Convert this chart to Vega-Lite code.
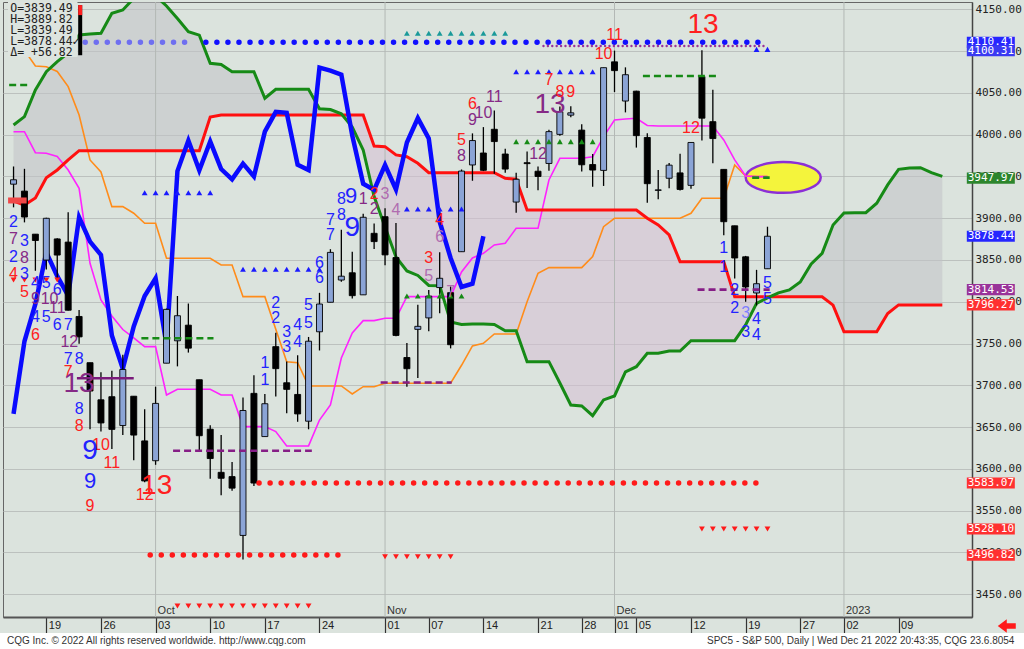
{
"$schema": "https://vega.github.io/schema/vega-lite/v6.json",
"width": 969, "height": 615,
"autosize": {"type": "none"},
"padding": {"left": 3, "top": 2, "right": 52, "bottom": 32},
"background": "#dbe3dd",
"config": {"view": {"stroke": "#666", "strokeWidth": 1}},
"resolve": {"scale": {"color": "independent", "size": "independent", "shape": "independent"}},
"datasets": {
"candles": [
{"i":0,"o":3940.7,"h":3961.9,"l":3913.0,"c":3946.0},{"i":1,"o":3932.4,"h":3959.1,"l":3895.0,"c":3901.4},{"i":2,"o":3880.9,"h":3880.9,"l":3837.1,"c":3873.3},{"i":3,"o":3849.9,"h":3900.5,"l":3838.5,"c":3899.9},{"i":4,"o":3875.2,"h":3876.0,"l":3827.5,"c":3855.9},{"i":5,"o":3871.4,"h":3907.1,"l":3789.5,"c":3789.9},{"i":6,"o":3782.4,"h":3790.2,"l":3749.9,"c":3758.0},{"i":7,"o":3727.1,"h":3727.1,"l":3647.5,"c":3693.2},{"i":8,"o":3682.7,"h":3715.7,"l":3644.8,"c":3655.0},{"i":9,"o":3686.4,"h":3717.5,"l":3623.8,"c":3647.3},
{"i":10,"o":3651.9,"h":3736.7,"l":3640.6,"c":3719.0},{"i":11,"o":3687.0,"h":3687.0,"l":3610.4,"c":3640.5},{"i":12,"o":3633.5,"h":3671.4,"l":3584.1,"c":3585.6},{"i":13,"o":3609.8,"h":3698.4,"l":3604.9,"c":3678.4},{"i":14,"o":3726.5,"h":3791.9,"l":3726.5,"c":3790.9},{"i":15,"o":3753.3,"h":3806.9,"l":3722.7,"c":3783.3},{"i":16,"o":3772.0,"h":3797.9,"l":3739.2,"c":3744.5},{"i":17,"o":3706.7,"h":3706.7,"l":3620.7,"c":3639.7},{"i":18,"o":3647.5,"h":3652.2,"l":3588.1,"c":3612.4},{"i":19,"o":3595.9,"h":3640.7,"l":3568.5,"c":3588.8},
{"i":20,"o":3590.8,"h":3608.3,"l":3573.9,"c":3577.0},{"i":21,"o":3520.4,"h":3685.4,"l":3491.6,"c":3669.9},{"i":22,"o":3690.4,"h":3712.0,"l":3579.7,"c":3583.1},{"i":23,"o":3638.7,"h":3689.7,"l":3638.7,"c":3678.0},{"i":24,"o":3746.3,"h":3762.8,"l":3686.5,"c":3720.0},{"i":25,"o":3703.1,"h":3728.6,"l":3666.5,"c":3695.2},{"i":26,"o":3689.1,"h":3736.0,"l":3656.4,"c":3665.8},{"i":27,"o":3657.1,"h":3757.9,"l":3647.4,"c":3752.8},{"i":28,"o":3764.1,"h":3810.7,"l":3741.7,"c":3797.3},{"i":29,"o":3799.4,"h":3862.9,"l":3799.4,"c":3859.1},
{"i":30,"o":3826.0,"h":3886.2,"l":3824.1,"c":3830.6},{"i":31,"o":3834.7,"h":3860.0,"l":3803.8,"c":3807.3},{"i":32,"o":3808.3,"h":3905.4,"l":3808.3,"c":3901.1},{"i":33,"o":3881.9,"h":3893.7,"l":3863.2,"c":3872.0},{"i":34,"o":3901.8,"h":3911.8,"l":3843.8,"c":3856.1},{"i":35,"o":3852.9,"h":3894.4,"l":3758.7,"c":3759.7},{"i":36,"o":3733.3,"h":3750.6,"l":3698.2,"c":3719.9},{"i":37,"o":3767.0,"h":3796.3,"l":3708.8,"c":3770.6},{"i":38,"o":3780.7,"h":3814.0,"l":3764.7,"c":3806.8},{"i":39,"o":3817.0,"h":3859.4,"l":3786.3,"c":3828.1},
{"i":40,"o":3810.9,"h":3818.2,"l":3744.2,"c":3748.6},{"i":41,"o":3859.9,"h":3958.3,"l":3859.9,"c":3956.4},{"i":42,"o":3963.7,"h":4001.5,"l":3944.8,"c":3992.9},{"i":43,"o":3978.0,"h":4009.0,"l":3956.4,"c":3957.3},{"i":44,"o":4006.4,"h":4028.8,"l":3953.2,"c":3991.7},{"i":45,"o":3976.8,"h":3983.1,"l":3954.3,"c":3958.8},{"i":46,"o":3919.3,"h":3954.3,"l":3906.5,"c":3946.6},{"i":47,"o":3966.4,"h":3979.9,"l":3936.0,"c":3965.3},{"i":48,"o":3956.2,"h":3962.0,"l":3933.3,"c":3949.9},{"i":49,"o":3965.5,"h":4005.9,"l":3956.9,"c":4003.6},
{"i":50,"o":4000.3,"h":4033.8,"l":3998.7,"c":4027.3},{"i":51,"o":4023.3,"h":4034.0,"l":4020.8,"c":4026.1},{"i":52,"o":4005.4,"h":4012.3,"l":3955.8,"c":3963.9},{"i":53,"o":3964.2,"h":3976.8,"l":3937.7,"c":3957.6},{"i":54,"o":3957.2,"h":4080.1,"l":3938.6,"c":4080.1},{"i":55,"o":4087.1,"h":4100.5,"l":4050.9,"c":4076.6},{"i":56,"o":4040.2,"h":4080.5,"l":4026.6,"c":4071.7},{"i":57,"o":4052.0,"h":4052.5,"l":3984.5,"c":3998.8},{"i":58,"o":3996.6,"h":4001.5,"l":3918.4,"c":3941.3},{"i":59,"o":3933.3,"h":3957.6,"l":3922.7,"c":3933.9},
{"i":60,"o":3947.8,"h":3966.0,"l":3935.8,"c":3963.5},{"i":61,"o":3954.2,"h":3977.0,"l":3933.0,"c":3934.4},{"i":62,"o":3939.3,"h":3990.7,"l":3935.3,"c":3990.6},{"i":63,"o":4069.4,"h":4101.0,"l":3993.0,"c":4019.7},{"i":64,"o":4015.5,"h":4053.8,"l":3965.7,"c":3995.3},{"i":65,"o":3958.4,"h":3958.4,"l":3879.5,"c":3895.8},{"i":66,"o":3890.9,"h":3890.9,"l":3827.9,"c":3852.4},{"i":67,"o":3853.8,"h":3854.9,"l":3800.0,"c":3817.7},{"i":68,"o":3810.5,"h":3838.2,"l":3795.6,"c":3821.6},{"i":69,"o":3839.5,"h":3889.8,"l":3839.5,"c":3878.4}
],
"ichi": [
{"i":0,"a":4011.6,"b":3920.6,"k":4110,"t":4003.5,"ch":3665.78},{"i":1,"a":4021.5,"b":3915.8,"k":4101,"t":4003.5,"ch":3752.75},{"i":2,"a":4053.4,"b":3924.2,"k":4082.2,"t":3978.4,"ch":3797.34},{"i":3,"a":4075.3,"b":3948.5,"k":4081.3,"t":3977.7,"ch":3859.11},{"i":4,"a":4087.3,"b":3957.7,"k":4075.6,"t":3973.9,"ch":3830.6},{"i":5,"a":4097.7,"b":3969.7,"k":4057.4,"t":3957.7,"ch":3807.3},{"i":6,"a":4119.2,"b":3980.8,"k":4023.5,"t":3935.8,"ch":3901.06},{"i":7,"a":4120.4,"b":3980.8,"k":3969.7,"t":3846.1,"ch":3871.98},{"i":8,"a":4121.3,"b":3980.8,"k":3955.3,"t":3802.2,"ch":3856.1},{"i":9,"a":4145.2,"b":3980.8,"k":3913.8,"t":3783.0,"ch":3759.69},
{"i":10,"a":4149.2,"b":3980.8,"k":3913.8,"t":3766.8,"ch":3719.89},{"i":11,"a":4163,"b":3980.8,"k":3905.9,"t":3756.7,"ch":3770.55},{"i":12,"a":4172,"b":3980.8,"k":3893.9,"t":3746.3,"ch":3806.8},{"i":13,"a":4166,"b":3980.8,"k":3893.9,"t":3746.3,"ch":3828.11},{"i":14,"a":4154,"b":3980.8,"k":3852,"t":3688.5,"ch":3748.57},{"i":15,"a":4139,"b":3980.8,"k":3852,"t":3695.3,"ch":3956.37},{"i":16,"a":4123.2,"b":3980.8,"k":3852,"t":3695.3,"ch":3992.93},{"i":17,"a":4119,"b":3980.8,"k":3852,"t":3695.3,"ch":3957.25},{"i":18,"a":4085.4,"b":4021,"k":3852,"t":3695.3,"ch":3991.73},{"i":19,"a":4084,"b":4023.5,"k":3844,"t":3688.5,"ch":3958.79},
{"i":20,"a":4075.3,"b":4023.5,"k":3844,"t":3688.5,"ch":3946.56},{"i":21,"a":4075.3,"b":4023.5,"k":3806.1,"t":3650.6,"ch":3965.34},{"i":22,"a":4075.3,"b":4023.5,"k":3806.1,"t":3650.6,"ch":3949.94},{"i":23,"a":4043.5,"b":4023.5,"k":3806.1,"t":3650.6,"ch":4003.58},{"i":24,"a":4054.3,"b":4023.5,"k":3767,"t":3644.6,"ch":4027.26},{"i":25,"a":4054.3,"b":4023.5,"k":3728.3,"t":3627.5,"ch":4026.12},{"i":26,"a":4054.3,"b":4023.5,"k":3727.1,"t":3627.5,"ch":3963.94},{"i":27,"a":4054.3,"b":4023.5,"k":3699.3,"t":3627.5,"ch":3957.63},{"i":28,"a":4031,"b":4023.5,"k":3699.3,"t":3658.5,"ch":4080.11},{"i":29,"a":4030,"b":4023.5,"k":3699.3,"t":3676.5,"ch":4076.57},
{"i":30,"a":4025,"b":4023.5,"k":3699.3,"t":3732.7,"ch":4071.7},{"i":31,"a":4009,"b":4023.5,"k":3689.7,"t":3762.7,"ch":3998.84},{"i":32,"a":3981.6,"b":4023.5,"k":3698.4,"t":3777.4,"ch":3941.26},{"i":33,"a":3926,"b":3986.4,"k":3698.4,"t":3777.4,"ch":3933.92},{"i":34,"a":3889.5,"b":3985.6,"k":3702.5,"t":3780.2,"ch":3963.51},{"i":35,"a":3853.6,"b":3975.7,"k":3702.5,"t":3780.2,"ch":3934.38},{"i":36,"a":3836.9,"b":3973.6,"k":3702.5,"t":3806.1,"ch":3990.56},{"i":37,"a":3831.5,"b":3965.7,"k":3702.5,"t":3806.1,"ch":4019.65},{"i":38,"a":3819.5,"b":3954.5,"k":3702.5,"t":3806.1,"ch":3995.32},{"i":39,"a":3819.3,"b":3954.5,"k":3702.5,"t":3806.1,"ch":3895.75},
{"i":40,"a":3775.8,"b":3954.5,"k":3702.5,"t":3806.1,"ch":3852.36},{"i":41,"a":3772.8,"b":3954.5,"k":3724,"t":3835.7,"ch":3817.66},{"i":42,"a":3773.4,"b":3954.5,"k":3747.1,"t":3852.4,"ch":3821.62},{"i":43,"a":3773.4,"b":3954.5,"k":3750.3,"t":3858,"ch":3878.44},{"i":44,"a":3772.8,"b":3954.5,"k":3761.5,"t":3868},{"i":45,"a":3765.4,"b":3947.8,"k":3761.5,"t":3870},{"i":46,"a":3765.4,"b":3946.6,"k":3761.5,"t":3887.9},{"i":47,"a":3728.3,"b":3909.8,"k":3800,"t":3887.9},{"i":48,"a":3728.3,"b":3909.8,"k":3834.1,"t":3887.9},{"i":49,"a":3728.3,"b":3909.8,"k":3840.9,"t":3945.7},
{"i":50,"a":3702.8,"b":3909.8,"k":3840.9,"t":3971.7},{"i":51,"a":3676.5,"b":3909.8,"k":3840.9,"t":3971.7},{"i":52,"a":3675.3,"b":3909.8,"k":3840.9,"t":3971.7},{"i":53,"a":3663.7,"b":3909.8,"k":3854,"t":3973.6},{"i":54,"a":3682.5,"b":3909.8,"k":3889.9,"t":3997.6},{"i":55,"a":3687.3,"b":3909.8,"k":3899.9,"t":4017.5},{"i":56,"a":3716,"b":3909.8,"k":3899.9,"t":4018.7},{"i":57,"a":3722.3,"b":3909.8,"k":3899.9,"t":4019.6},{"i":58,"a":3738.4,"b":3899.9,"k":3899.9,"t":4011},{"i":59,"a":3738.4,"b":3891.9,"k":3899.9,"t":4010.4},
{"i":60,"a":3741.1,"b":3880,"k":3899.9,"t":4010.4},{"i":61,"a":3741.1,"b":3848,"k":3899.9,"t":4010.4},{"i":62,"a":3753.4,"b":3848,"k":3905.9,"t":4010.4},{"i":63,"a":3753.4,"b":3848,"k":3923.9,"t":4010.4},{"i":64,"a":3753.4,"b":3848,"k":3923.9,"t":4010.4},{"i":65,"a":3753.4,"b":3848,"k":3923.9,"t":3993.6},{"i":66,"a":3753.4,"b":3806,"k":3963.7,"t":3969.7},{"i":67,"a":3772.3,"b":3806,"k":3950.5,"t":3950.5},{"i":68,"a":3798,"b":3806,"k":3949.7,"t":3949.7},{"i":69,"a":3804.6,"b":3806,"k":3949.7,"t":3949.7},
{"i":70,"a":3810.6,"b":3806},{"i":71,"a":3814.1,"b":3806},{"i":72,"a":3823.7,"b":3806},{"i":73,"a":3845.2,"b":3806},{"i":74,"a":3858,"b":3806},{"i":75,"a":3891.9,"b":3796},{"i":76,"a":3906.3,"b":3764},{"i":77,"a":3906.6,"b":3764},{"i":78,"a":3906.6,"b":3764},{"i":79,"a":3917.9,"b":3764},
{"i":80,"a":3939.8,"b":3786},{"i":81,"a":3958.5,"b":3796.27},{"i":82,"a":3960.1,"b":3796.27},{"i":83,"a":3960.5,"b":3796.27},{"i":84,"a":3954.5,"b":3796.27},{"i":85,"a":3950,"b":3796.27}
],
"lev": [
{"k":"bl","p":4110.41,"i0":6.56,"i1":16.58},
{"k":"bd","p":4110.41,"i0":17.6,"i1":68.62},
{"k":"pd","p":4106,"i0":48.5,"i1":68.8},
{"k":"rd","p":3583.07,"i0":22.47,"i1":68.49},
{"k":"rd","p":3497,"i0":12.51,"i1":30.53},
{"k":"gd","p":4059.3,"i0":-0.4,"i1":1.3},
{"k":"gd","p":3756.3,"i0":11.7,"i1":18.3},
{"k":"gd","p":4070.2,"i0":57.6,"i1":64.3},
{"k":"gd","p":3948.5,"i0":67.6,"i1":69.2},
{"k":"pdsh","p":3621.8,"i0":14.6,"i1":27.3},
{"k":"pdsh","p":3703.4,"i0":33.6,"i1":40.1},
{"k":"pdsh","p":3814.53,"i0":62.6,"i1":69.2},
{"k":"ps","p":3708.4,"i0":5.8,"i1":11},
{"k":"rt","p":3921.2,"i0":-0.5,"i1":1.2}
],
"tri": [
{"k":"bu","i":12,"p":3930.5},{"k":"bu","i":13,"p":3930.5},{"k":"bu","i":14,"p":3930.5},{"k":"bu","i":15,"p":3930.5},{"k":"bu","i":16,"p":3930.5},{"k":"bu","i":17,"p":3930.5},{"k":"bu","i":18,"p":3930.5},
{"k":"bu","i":21,"p":3838.9},{"k":"bu","i":22,"p":3838.9},{"k":"bu","i":23,"p":3838.9},{"k":"bu","i":24,"p":3838.9},{"k":"bu","i":25,"p":3838.9},{"k":"bu","i":26,"p":3838.9},{"k":"bu","i":27,"p":3838.9},{"k":"bu","i":28,"p":3838.9},
{"k":"bu","i":36,"p":3911},{"k":"bu","i":37,"p":3911},{"k":"bu","i":38,"p":3911},{"k":"bu","i":39,"p":3911},{"k":"bu","i":40,"p":3911},{"k":"bu","i":41,"p":3911},
{"k":"bu","i":46,"p":4075.3},{"k":"bu","i":47,"p":4075.3},{"k":"bu","i":48,"p":4075.3},{"k":"bu","i":49,"p":4075.3},{"k":"bu","i":50,"p":4075.3},{"k":"bu","i":51,"p":4075.3},{"k":"bu","i":52,"p":4075.3},{"k":"bu","i":53,"p":4075.3},
{"k":"bu","i":68,"p":4102},{"k":"bu","i":69,"p":4102},
{"k":"tu","i":36,"p":4121.3},{"k":"tu","i":37,"p":4121.3},{"k":"tu","i":38,"p":4121.3},{"k":"tu","i":39,"p":4121.3},{"k":"tu","i":40,"p":4121.3},{"k":"tu","i":41,"p":4121.3},{"k":"tu","i":42,"p":4121.3},{"k":"tu","i":43,"p":4121.3},{"k":"tu","i":44,"p":4121.3},{"k":"tu","i":45,"p":4121.3},
{"k":"gu","i":46,"p":3991.6},{"k":"gu","i":47,"p":3991.6},{"k":"gu","i":48,"p":3991.6},{"k":"gu","i":49,"p":3991.6},{"k":"gu","i":50,"p":3991.6},{"k":"gu","i":51,"p":3991.6},{"k":"gu","i":52,"p":3991.6},{"k":"gu","i":53,"p":3991.6},
{"k":"gu","i":36,"p":3807},{"k":"gu","i":37,"p":3807},{"k":"gu","i":38,"p":3807},{"k":"gu","i":39,"p":3807},{"k":"gu","i":40,"p":3807},{"k":"gu","i":41,"p":3807},
{"k":"rd","i":15,"p":3436},{"k":"rd","i":16,"p":3436},{"k":"rd","i":17,"p":3436},{"k":"rd","i":18,"p":3436},{"k":"rd","i":19,"p":3436},{"k":"rd","i":20,"p":3436},{"k":"rd","i":21,"p":3436},{"k":"rd","i":22,"p":3436},{"k":"rd","i":23,"p":3436},{"k":"rd","i":24,"p":3436},{"k":"rd","i":25,"p":3436},{"k":"rd","i":26,"p":3436},{"k":"rd","i":27,"p":3436},
{"k":"rd","i":34,"p":3495},{"k":"rd","i":35,"p":3495},{"k":"rd","i":36,"p":3495},{"k":"rd","i":37,"p":3495},{"k":"rd","i":38,"p":3495},{"k":"rd","i":39,"p":3495},{"k":"rd","i":40,"p":3495},
{"k":"rd","i":63,"p":3528.1},{"k":"rd","i":64,"p":3528.1},{"k":"rd","i":65,"p":3528.1},{"k":"rd","i":66,"p":3528.1},{"k":"rd","i":67,"p":3528.1},{"k":"rd","i":68,"p":3528.1},{"k":"rd","i":69,"p":3528.1},
{"k":"rd","i":0,"p":3826},{"k":"rd","i":1,"p":3826},{"k":"rd","i":2,"p":3826},{"k":"rd","i":3,"p":3826},{"k":"rd","i":4,"p":3826}
],
"txt": [
{"t":"2","i":0,"p":3896,"k":"b","s":"n"},{"t":"7","i":0,"p":3875,"k":"p","s":"n"},{"t":"3","i":1,"p":3873,"k":"b","s":"n"},{"t":"2","i":0,"p":3853,"k":"b","s":"n"},{"t":"8","i":1,"p":3852,"k":"p","s":"n"},{"t":"4","i":0,"p":3833,"k":"r","s":"n"},{"t":"3","i":1,"p":3833,"k":"b","s":"n"},{"t":"4","i":2,"p":3822,"k":"b","s":"n"},{"t":"5","i":3,"p":3822,"k":"b","s":"n"},{"t":"5","i":1,"p":3812,"k":"r","s":"n"},{"t":"6","i":4,"p":3814,"k":"b","s":"n"},{"t":"9","i":2,"p":3803,"k":"p","s":"n"},{"t":"10","i":3.3,"p":3803,"k":"p","s":"n"},{"t":"11","i":4,"p":3792,"k":"p","s":"n"},{"t":"4","i":2,"p":3782,"k":"b","s":"n"},{"t":"5","i":3,"p":3782,"k":"b","s":"n"},{"t":"6","i":4,"p":3772,"k":"b","s":"n"},{"t":"7","i":5,"p":3772,"k":"b","s":"n"},{"t":"6","i":2,"p":3760,"k":"r","s":"n"},{"t":"12","i":5.1,"p":3752,"k":"p","s":"n"},{"t":"7","i":5,"p":3732,"k":"b","s":"n"},{"t":"8","i":6,"p":3732,"k":"b","s":"n"},{"t":"7","i":5,"p":3716,"k":"r","s":"n"},{"t":"13","i":6,"p":3702,"k":"p","s":"XL"},{"t":"8","i":6,"p":3672,"k":"b","s":"n"},{"t":"8","i":6,"p":3651,"k":"r","s":"n"},{"t":"10","i":8,"p":3629,"k":"r","s":"n"},{"t":"9","i":7,"p":3621,"k":"b","s":"XL"},{"t":"11","i":9,"p":3607,"k":"r","s":"n"},{"t":"9","i":7,"p":3585,"k":"b","s":"L"},{"t":"13","i":13.1,"p":3579,"k":"r","s":"XL"},{"t":"12","i":12,"p":3569,"k":"r","s":"n"},{"t":"9","i":7,"p":3556,"k":"r","s":"n"},
{"t":"1","i":23,"p":3727,"k":"b","s":"n"},{"t":"1","i":23,"p":3706,"k":"b","s":"n"},{"t":"2","i":24,"p":3798,"k":"b","s":"n"},{"t":"2","i":24,"p":3780,"k":"b","s":"n"},{"t":"3","i":25,"p":3764,"k":"b","s":"n"},{"t":"3","i":25,"p":3746,"k":"b","s":"n"},{"t":"4","i":26,"p":3772,"k":"b","s":"n"},{"t":"4","i":26,"p":3752,"k":"b","s":"n"},{"t":"5","i":27,"p":3796,"k":"b","s":"n"},{"t":"5","i":27,"p":3774,"k":"b","s":"n"},{"t":"6","i":28,"p":3846,"k":"b","s":"n"},{"t":"6","i":28,"p":3828,"k":"b","s":"n"},{"t":"7","i":29,"p":3898,"k":"b","s":"n"},{"t":"7","i":29,"p":3880,"k":"b","s":"n"},{"t":"8","i":30,"p":3923,"k":"b","s":"n"},{"t":"8","i":30,"p":3904,"k":"b","s":"n"},{"t":"9","i":30.9,"p":3926,"k":"b","s":"L"},{"t":"9","i":31,"p":3888,"k":"b","s":"XL"},{"t":"1","i":32,"p":3923,"k":"p","s":"n"},{"t":"2","i":33,"p":3929,"k":"r","s":"n"},{"t":"3","i":34,"p":3929,"k":"m","s":"n"},{"t":"2","i":33,"p":3911,"k":"p","s":"n"},{"t":"4","i":35,"p":3910,"k":"m","s":"n"},{"t":"4","i":39,"p":3898,"k":"r","s":"n"},{"t":"6","i":39,"p":3877,"k":"m","s":"n"},{"t":"3","i":38,"p":3852,"k":"r","s":"n"},{"t":"5","i":38,"p":3831,"k":"m","s":"n"},{"t":"7","i":40,"p":3812,"k":"m","s":"n"},{"t":"5","i":41,"p":3994,"k":"r","s":"n"},{"t":"8","i":41,"p":3974,"k":"p","s":"n"},{"t":"6","i":42,"p":4037,"k":"r","s":"n"},{"t":"9","i":42,"p":4018,"k":"p","s":"n"},{"t":"10","i":43,"p":4026,"k":"p","s":"n"},{"t":"11","i":44,"p":4045,"k":"p","s":"n"},{"t":"12","i":48,"p":3977,"k":"p","s":"n"},{"t":"13","i":49.1,"p":4035,"k":"p","s":"XL"},{"t":"7","i":49,"p":4065,"k":"r","s":"n"},{"t":"8","i":50,"p":4051,"k":"r","s":"n"},{"t":"9","i":51,"p":4051,"k":"r","s":"n"},{"t":"10","i":54,"p":4097,"k":"r","s":"n"},{"t":"11","i":55,"p":4119,"k":"r","s":"n"},
{"t":"13","i":63.1,"p":4131,"k":"r","s":"XL"},{"t":"12","i":62,"p":4008,"k":"r","s":"n"},{"t":"1","i":65,"p":3864,"k":"b","s":"n"},{"t":"1","i":65,"p":3842,"k":"b","s":"n"},{"t":"2","i":66,"p":3814,"k":"b","s":"n"},{"t":"2","i":66,"p":3792,"k":"b","s":"n"},{"t":"3","i":67,"p":3786,"k":"lb","s":"n"},{"t":"4","i":68,"p":3779,"k":"b","s":"n"},{"t":"3","i":67,"p":3764,"k":"b","s":"n"},{"t":"4","i":68,"p":3760,"k":"b","s":"n"},{"t":"5","i":69,"p":3823,"k":"b","s":"n"},{"t":"5","i":69,"p":3803,"k":"b","s":"n"}
],
"plab": [
{"v":4110.41,"k":"b"},{"v":4100.31,"k":"b2"},{"v":3947.97,"k":"g"},{"v":3878.44,"k":"b"},{"v":3814.53,"k":"p"},{"v":3796.27,"k":"r"},{"v":3583.07,"k":"r"},{"v":3528.10,"k":"r"},{"v":3496.82,"k":"r"}
],
"months": [
{"m":"Oct","i":13},{"m":"Nov","i":34},{"m":"Dec","i":55},{"m":"2023","i":76}
]
},
"layer": [
{"data": {"name": "ichi"}, "transform": [{"filter": "datum.i <= 30"}],
 "mark": {"type": "area", "color": "#c1c2c6", "opacity": 0.55, "clip": true},
 "encoding": {
  "x": {"field": "i", "type": "quantitative", "scale": {"domain": [-0.507, 87.26], "nice": false, "zero": false},
    "axis": {"title": null, "grid": false, "values": [3,8,13,18,23,28,34,38,43,48,52,55,57,62,67,72,76,81],
      "labelExpr": "['19','26','03','10','17','24','01','07','14','21','28','01','05','12','19','27','02','09'][indexof([3,8,13,18,23,28,34,38,43,48,52,55,57,62,67,72,76,81], datum.value)]",
      "domainColor": "#555", "domainWidth": 2, "tickColor": "#333", "tickSize": 16, "tickWidth": 1.2,
      "labelAlign": "left", "labelBaseline": "middle", "labelPadding": -8, "labelOffset": 2,
      "labelFont": "Liberation Sans", "labelFontSize": 11, "labelColor": "#222", "labelFlush": false, "labelOverlap": false}},
  "y": {"field": "a", "type": "quantitative", "scale": {"domain": [3422.8, 4158.7], "nice": false, "zero": false},
    "axis": {"title": null, "orient": "right", "values": [3450,3500,3550,3600,3650,3700,3750,3800,3850,3900,3950,4000,4050,4100,4150],
      "format": ".2f", "grid": true, "gridColor": "#bcc1be", "gridWidth": 1, "domainColor": "#444", "domainWidth": 1.5,
      "ticks": false, "labelPadding": 3, "labelFont": "DejaVu Sans Mono", "labelFontSize": 11, "labelColor": "#222",
      "labelFlush": false, "labelOverlap": false}},
  "y2": {"field": "b"}}},
{"data": {"name": "ichi"}, "transform": [{"filter": "datum.i >= 30 && datum.i <= 69"}],
 "mark": {"type": "area", "color": "#d6c0d4", "opacity": 0.55, "clip": true},
 "encoding": {"x": {"field": "i", "type": "quantitative"}, "y": {"field": "a", "type": "quantitative"}, "y2": {"field": "b"}}},
{"data": {"name": "ichi"}, "transform": [{"filter": "datum.i >= 69"}],
 "mark": {"type": "area", "color": "#c1c2c6", "opacity": 0.55, "clip": true},
 "encoding": {"x": {"field": "i", "type": "quantitative"}, "y": {"field": "a", "type": "quantitative"}, "y2": {"field": "b"}}},
{"data": {"name": "months"}, "mark": {"type": "rule", "color": "#b3b8b5", "strokeWidth": 1},
 "encoding": {"x": {"field": "i", "type": "quantitative"}}},
{"data": {"name": "months"}, "mark": {"type": "text", "align": "left", "baseline": "middle", "dx": 2, "font": "Liberation Sans", "fontSize": 11, "color": "#333"},
 "encoding": {"x": {"field": "i", "type": "quantitative"}, "y": {"datum": 3430, "type": "quantitative"}, "text": {"field": "m"}}},
{"data": {"values": [{"i": 70.44, "p": 3948.7}]},
 "mark": {"type": "point", "shape": "M-1,0A1,0.41,0,1,1,1,0A1,0.41,0,1,1,-1,0Z", "size": 5625, "filled": true, "fill": "#f4f43c", "stroke": "#8c2fd6", "strokeWidth": 2.5, "opacity": 1},
 "encoding": {"x": {"field": "i", "type": "quantitative"}, "y": {"field": "p", "type": "quantitative"}}},
{"data": {"name": "ichi"}, "mark": {"type": "line", "color": "#ff8c1a", "strokeWidth": 1.6, "clip": true},
 "encoding": {"x": {"field": "i", "type": "quantitative"}, "y": {"field": "k", "type": "quantitative"}}},
{"data": {"name": "ichi"}, "mark": {"type": "line", "color": "#ff22ff", "strokeWidth": 1.6, "clip": true},
 "encoding": {"x": {"field": "i", "type": "quantitative"}, "y": {"field": "t", "type": "quantitative"}}},
{"data": {"name": "ichi"}, "mark": {"type": "line", "color": "#ff1010", "strokeWidth": 3, "clip": true},
 "encoding": {"x": {"field": "i", "type": "quantitative"}, "y": {"field": "b", "type": "quantitative"}}},
{"data": {"name": "ichi"}, "mark": {"type": "line", "color": "#168a16", "strokeWidth": 3, "clip": true},
 "encoding": {"x": {"field": "i", "type": "quantitative"}, "y": {"field": "a", "type": "quantitative"}}},
{"data": {"name": "ichi"}, "mark": {"type": "line", "color": "#0a0aff", "strokeWidth": 4.5, "clip": true},
 "encoding": {"x": {"field": "i", "type": "quantitative"}, "y": {"field": "ch", "type": "quantitative"}}},
{"data": {"name": "candles"}, "mark": {"type": "rule", "color": "#000", "strokeWidth": 1.3},
 "encoding": {"x": {"field": "i", "type": "quantitative"}, "y": {"field": "l", "type": "quantitative"}, "y2": {"field": "h"}}},
{"data": {"name": "candles"}, "mark": {"type": "bar", "size": 6, "stroke": "#000", "strokeWidth": 0.9},
 "encoding": {"x": {"field": "i", "type": "quantitative"}, "y": {"field": "o", "type": "quantitative"}, "y2": {"field": "c"},
  "fill": {"condition": {"test": "datum.c >= datum.o", "value": "#8ba4d6"}, "value": "#000000"}}},
{"data": {"name": "lev"}, "transform": [{"filter": "datum.k == 'bl'"}],
 "mark": {"type": "rule", "color": "#6f6ff0", "strokeWidth": 5.5, "strokeDash": [0, 11.0406], "strokeCap": "round"},
 "encoding": {"x": {"field": "i0", "type": "quantitative"}, "x2": {"field": "i1"}, "y": {"field": "p", "type": "quantitative"}}},
{"data": {"name": "lev"}, "transform": [{"filter": "datum.k == 'bd'"}],
 "mark": {"type": "rule", "color": "#1010ff", "strokeWidth": 5.5, "strokeDash": [0, 11.0406], "strokeCap": "round"},
 "encoding": {"x": {"field": "i0", "type": "quantitative"}, "x2": {"field": "i1"}, "y": {"field": "p", "type": "quantitative"}}},
{"data": {"name": "lev"}, "transform": [{"filter": "datum.k == 'pd'"}],
 "mark": {"type": "rule", "color": "#993399", "strokeWidth": 2.4, "strokeDash": [0, 4.4], "strokeCap": "round"},
 "encoding": {"x": {"field": "i0", "type": "quantitative"}, "x2": {"field": "i1"}, "y": {"field": "p", "type": "quantitative"}}},
{"data": {"name": "lev"}, "transform": [{"filter": "datum.k == 'rd'"}],
 "mark": {"type": "rule", "color": "#ff1a1a", "strokeWidth": 5.5, "strokeDash": [0, 11.0406], "strokeCap": "round"},
 "encoding": {"x": {"field": "i0", "type": "quantitative"}, "x2": {"field": "i1"}, "y": {"field": "p", "type": "quantitative"}}},
{"data": {"name": "lev"}, "transform": [{"filter": "datum.k == 'gd'"}],
 "mark": {"type": "rule", "color": "#168a16", "strokeWidth": 2.6, "strokeDash": [7, 4]},
 "encoding": {"x": {"field": "i0", "type": "quantitative"}, "x2": {"field": "i1"}, "y": {"field": "p", "type": "quantitative"}}},
{"data": {"name": "lev"}, "transform": [{"filter": "datum.k == 'pdsh'"}],
 "mark": {"type": "rule", "color": "#861e86", "strokeWidth": 2.6, "strokeDash": [7, 4]},
 "encoding": {"x": {"field": "i0", "type": "quantitative"}, "x2": {"field": "i1"}, "y": {"field": "p", "type": "quantitative"}}},
{"data": {"name": "lev"}, "transform": [{"filter": "datum.k == 'ps'"}],
 "mark": {"type": "rule", "color": "#7a1a7a", "strokeWidth": 2.6},
 "encoding": {"x": {"field": "i0", "type": "quantitative"}, "x2": {"field": "i1"}, "y": {"field": "p", "type": "quantitative"}}},
{"data": {"name": "lev"}, "transform": [{"filter": "datum.k == 'rt'"}],
 "mark": {"type": "rule", "color": "#f04848", "strokeWidth": 6},
 "encoding": {"x": {"field": "i0", "type": "quantitative"}, "x2": {"field": "i1"}, "y": {"field": "p", "type": "quantitative"}}},
{"data": {"name": "tri"}, "mark": {"type": "point", "filled": true, "size": 34, "opacity": 1},
 "encoding": {"x": {"field": "i", "type": "quantitative"}, "y": {"field": "p", "type": "quantitative"},
  "shape": {"field": "k", "type": "nominal", "scale": {"domain": ["bu","tu","gu","rd"], "range": ["triangle-up","triangle-up","triangle-up","triangle-down"]}, "legend": null},
  "color": {"field": "k", "type": "nominal", "scale": {"domain": ["bu","tu","gu","rd"], "range": ["#1a1aff","#1a9a9a","#168a16","#ff1a1a"]}, "legend": null}}},
{"data": {"name": "txt"}, "mark": {"type": "text", "font": "Liberation Sans", "align": "center", "baseline": "middle"},
 "encoding": {"x": {"field": "i", "type": "quantitative"}, "y": {"field": "p", "type": "quantitative"}, "text": {"field": "t"},
  "color": {"field": "k", "type": "nominal", "scale": {"domain": ["b","r","p","m","lb"], "range": ["#2323ff","#ff2020","#862a86","#b06cb0","#7f7fff"]}, "legend": null},
  "size": {"field": "s", "type": "nominal", "scale": {"domain": ["n","L","XL"], "range": [16, 28, 33]}, "legend": null}}},
{"data": {"values": [{}]}, "mark": {"type": "rect", "fill": "#dde4df", "clip": false},
 "encoding": {"x": {"datum": -0.507, "type": "quantitative"}, "x2": {"datum": 5.85}, "y": {"datum": 4158.7, "type": "quantitative"}, "y2": {"datum": 4092.9}}},
{"data": {"values": [{}]}, "mark": {"type": "text", "align": "left", "baseline": "top", "font": "DejaVu Sans Mono", "fontSize": 11.5, "lineHeight": 11, "color": "#222"},
 "encoding": {"x": {"datum": -0.3, "type": "quantitative"}, "y": {"datum": 4157.5, "type": "quantitative"},
  "text": {"value": ["O=3839.49", "H=3889.82", "L=3839.49", "L=3878.44✓", "Δ= +56.82"]}}},
{"data": {"values": [{}]}, "mark": {"type": "rule", "color": "#000", "strokeWidth": 4},
 "encoding": {"x": {"datum": 6.1, "type": "quantitative"}, "y": {"datum": 4155, "type": "quantitative"}, "y2": {"datum": 4095}}},
{"data": {"values": [{}]}, "mark": {"type": "rule", "color": "#ff2020", "strokeWidth": 4},
 "encoding": {"x": {"datum": 6.1, "type": "quantitative"}, "y": {"datum": 4155, "type": "quantitative"}, "y2": {"datum": 4143}}},
{"data": {"name": "plab"}, "mark": {"type": "point", "shape": "M-1,-0.23H1V0.23H-1Z", "size": 2304, "filled": true, "opacity": 1, "clip": false},
 "encoding": {"x": {"datum": 89.44, "type": "quantitative"}, "y": {"field": "v", "type": "quantitative"},
  "color": {"field": "k", "type": "nominal", "scale": {"domain": ["b","b2","g","p","r"], "range": ["#2626ff","#3a3af2","#2d862d","#993399","#ff3030"]}, "legend": null}}},
{"data": {"name": "plab"}, "mark": {"type": "text", "align": "center", "baseline": "middle", "font": "DejaVu Sans Mono", "fontSize": 11, "color": "#ffffff", "clip": false},
 "encoding": {"x": {"datum": 89.44, "type": "quantitative"}, "y": {"field": "v", "type": "quantitative"}, "text": {"field": "v", "type": "quantitative", "format": ".2f"}}},
{"data": {"values": [{}]}, "mark": {"type": "rect", "fill": "#ffffff", "clip": false},
 "encoding": {"x": {"datum": -2, "type": "quantitative"}, "x2": {"datum": 95}, "y": {"datum": 3403.7, "type": "quantitative"}, "y2": {"datum": 3350}}},
{"data": {"values": [{}]}, "mark": {"type": "text", "align": "left", "baseline": "middle", "font": "Liberation Sans", "fontSize": 10, "color": "#333", "clip": false},
 "encoding": {"x": {"datum": -0.6, "type": "quantitative"}, "y": {"datum": 3394, "type": "quantitative"}, "text": {"value": "CQG Inc. © 2022 All rights reserved worldwide. http://www.cqg.com"}}},
{"data": {"values": [{}]}, "mark": {"type": "text", "align": "right", "baseline": "middle", "font": "Liberation Sans", "fontSize": 10, "color": "#333", "clip": false},
 "encoding": {"x": {"datum": 91.6, "type": "quantitative"}, "y": {"datum": 3394, "type": "quantitative"}, "text": {"value": "SPC5 - S&P 500, Daily | Wed Dec 21 2022 20:43:35, CQG 23.6.8054"}}},
{"data": {"values": [{}]}, "mark": {"type": "point", "shape": "M-1,0L0,-0.75L0,-0.3L1,-0.3L1,0.3L0,0.3L0,0.75Z", "size": 324, "filled": true, "color": "#ff1a1a", "opacity": 1, "clip": false},
 "encoding": {"x": {"datum": 90.9, "type": "quantitative"}, "y": {"datum": 3412, "type": "quantitative"}}}
]
}
